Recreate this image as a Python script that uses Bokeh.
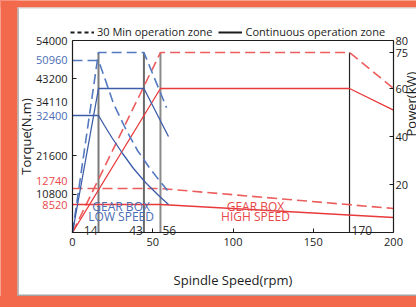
import math
from bokeh.plotting import figure
from bokeh.models import (Range1d, LinearAxis, FixedTicker, ColumnDataSource,
                          Legend, LegendItem, GlobalInlineStyleSheet)
from bokeh.core.properties import value
from bokeh.embed import file_html
from bokeh.resources import INLINE

# ---------------- data ----------------
speed_marks = [16.2, 44.5, 54.8, 172.6]
speed_mark_labels = ["14", "43", "56", "170"]
mark_top_power = [75, 75, 75, 75]

# low gear box (blue) torque, N.m
low_t30_speed = [0, 16.2, 20.6, 25.5, 33.0, 40.5, 47.4, 53.6, 59.2]
low_t30_torque = [48375, 48375, 42750, 36281, 29250, 23063, 18563, 14906, 11813]
low_tc_speed = [0, 16.2, 19.9, 24.9, 31.2, 38.0, 45.5, 53.0, 59.8]
low_tc_torque = [32906, 32906, 30094, 26438, 22219, 18000, 14063, 10688, 7875]
# low gear box (blue) power, kW
low_p30_speed = [0, 16.2, 44.5, 58.6]
low_p30_power = [0, 75, 75, 52]
low_pc_speed = [0, 16.2, 44.5, 59.8]
low_pc_power = [0, 60, 60, 40]

# high gear box (red) torque, N.m
high_t30_speed = [0, 54.8, 200]
high_t30_torque = [12375, 12375, 6750]
high_tc_speed = [0, 54.8, 200]
high_tc_torque = [7875, 7875, 4219]
# high gear box (red) power, kW
high_p30_speed = [0, 54.8, 172.6, 200]
high_p30_power = [0, 75, 75, 60]
high_pc_speed = [0, 54.8, 172.6, 200]
high_pc_power = [0, 60, 60, 51]

speed_max = 200
torque_max = 54000
power_max = 80
x_ticks = [0, 50, 100, 150, 200]
left_axis_ticks = [10800, 21600, 43200, 54000]
extra_torque_labels = ["50960", "34110", "32400", "12740", "8520"]
extra_torque_pos = [48500, 36563, 32906, 14625, 7875]
extra_torque_kind = ["b", "k", "b", "r", "r"]
right_ticks = [20, 40, 60, 75, 80]

gear_text_speed = [30.3, 30.3, 114, 114]
gear_text_torque = [7312, 4500, 7312, 4500]
gear_text = ["GEAR BOX", "LOW SPEED", "GEAR BOX", "HIGH SPEED"]
gear_kind = ["b", "b", "r", "r"]

# ---------------- styles ----------------
BLUE = "#3d5ca8"
BLUE_D = "#5479c0"
RED = "#e8393b"
RED_D = "#ec5d5d"
BLUE_T = "#4a6cb3"
RED_T = "#e8474a"
INK = "#1c1c1c"
ORANGE = "#F2694C"
EDGE = "#a3a3a3"
FONT = value("Open Sans")
kind_color = {"k": INK, "b": BLUE_T, "r": RED_T}

# ---------------- pixel layout ----------------
# canvas covers page px 0..416 x 0..296; plot box is 72..393 x 40..232
W, H = 416, 296
BOX_L, BOX_R, BOX_T, BOX_B = 72, 393, 40, 232
x_per_px = speed_max / (BOX_R - BOX_L)
t_per_px = torque_max / (BOX_B - BOX_T)
p_per_px = power_max / (BOX_B - BOX_T)

def cx(px):   # canvas px -> speed units
    return (px - BOX_L) * x_per_px

def cy(py):   # canvas px -> torque units
    return (BOX_B - py) * t_per_px

p = figure(width=W, height=H,
           x_range=Range1d(cx(0), cx(W)), y_range=Range1d(cy(H), cy(0)),
           output_backend="svg", toolbar_location=None, min_border=0,
           background_fill_color="white", border_fill_color="white")
p.title.visible = False
p.extra_y_ranges = {"power": Range1d((BOX_B - H) * p_per_px, BOX_B * p_per_px)}
p.xgrid.visible = False
p.ygrid.visible = False
p.outline_line_color = None
p.stylesheets = [GlobalInlineStyleSheet(
    css="html, body { background-color: %s; margin: 0; }" % ORANGE)]

# card decoration: orange frame at left/top, grey edges of the white card
p.quad(left=[cx(0)], right=[cx(17)], bottom=[cy(H)], top=[cy(0)],
       fill_color=ORANGE, line_color=None)
p.quad(left=[cx(0)], right=[cx(W)], bottom=[cy(7)], top=[cy(0)],
       fill_color=ORANGE, line_color=None)
p.segment(x0=[cx(17.6)], y0=[cy(H)], x1=[cx(17.6)], y1=[cy(7)], line_color=EDGE, line_width=1.3)
p.segment(x0=[cx(17)], y0=[cy(7.5)], x1=[cx(W)], y1=[cy(7.5)], line_color="#d0d0d0", line_width=1)
p.quad(left=[cx(17)], right=[cx(W)], bottom=[cy(H)], top=[cy(H - 2)],
       fill_color=EDGE, line_color=None)

def style_axis(ax, standoff):
    ax.major_tick_in = 4
    ax.major_tick_out = 0
    ax.minor_tick_in = 0
    ax.minor_tick_out = 0
    ax.major_label_standoff = standoff
    ax.major_label_text_font = "Open Sans"
    ax.major_label_text_font_size = "11px"
    ax.major_label_text_color = INK
    ax.axis_label_text_font = "Open Sans"
    ax.axis_label_text_font_size = "13px"
    ax.axis_label_text_font_style = "normal"
    ax.axis_label_text_color = INK
    ax.axis_line_color = INK
    ax.axis_line_width = 1.2
    ax.major_tick_line_color = INK

xa = p.xaxis[0]
xa.ticker = FixedTicker(ticks=x_ticks)
xa.fixed_location = 0
xa.bounds = (0, speed_max)
style_axis(xa, 5)
xa.axis_label = "Spindle Speed(rpm)"
xa.axis_label_standoff = 22

ya = p.yaxis[0]
ya.ticker = FixedTicker(ticks=left_axis_ticks)
ya.fixed_location = 0
ya.bounds = (0, torque_max)
style_axis(ya, 5)
ya.axis_label = "Torque(N.m)"
ya.axis_label_standoff = -2

ra = LinearAxis(y_range_name="power", ticker=FixedTicker(ticks=right_ticks),
                bounds=(0, power_max), fixed_location=speed_max, axis_label="Power(kW)")
style_axis(ra, 2)
ra.axis_label_standoff = 0
try:
    ra.axis_label_orientation = math.pi / 2
except Exception:
    pass
p.add_layout(ra, "right")

# top edge of the plot box
p.line([0, speed_max], [torque_max, torque_max], line_color=INK, line_width=1.2)

# coloured / extra torque labels beside the left axis
lsrc = ColumnDataSource(dict(x=[cx(BOX_L - 5)] * len(extra_torque_labels), y=extra_torque_pos,
                             t=extra_torque_labels,
                             c=[kind_color[k] for k in extra_torque_kind]))
p.text(x="x", y="y", text="t", text_color="c", source=lsrc, text_align="right",
       text_baseline="middle", text_font=FONT, text_font_size="11px")

# vertical speed marks
p.segment(x0=speed_marks, y0=[0] * 4, x1=speed_marks, y1=mark_top_power,
          y_range_name="power", line_color=["#7a7a7a", "#6a6a6a", "#8a8a8a", "#262626"],
          line_width=[2, 2, 2, 1.2])

DASH = "10 5"
p.line(high_p30_speed, high_p30_power, y_range_name="power", line_color=RED_D, line_width=1.6, line_dash=DASH)
p.line(high_pc_speed, high_pc_power, y_range_name="power", line_color=RED, line_width=1.3)
p.line(high_t30_speed, high_t30_torque, line_color=RED_D, line_width=1.6, line_dash=DASH)
p.line(high_tc_speed, high_tc_torque, line_color=RED, line_width=1.3)
p.line(low_p30_speed, low_p30_power, y_range_name="power", line_color=BLUE_D, line_width=1.6, line_dash=DASH)
p.line(low_pc_speed, low_pc_power, y_range_name="power", line_color=BLUE, line_width=1.3)
p.line(low_t30_speed, low_t30_torque, line_color=BLUE_D, line_width=1.6, line_dash=DASH)
p.line(low_tc_speed, low_tc_torque, line_color=BLUE, line_width=1.3)

p.text(x=speed_marks[:2], y=[0, 0], text=speed_mark_labels[:2], text_align="right",
       text_baseline="alphabetic", x_offset=-1, y_offset=-2, text_font=FONT,
       text_font_size="12px", text_color="#333333")
p.text(x=speed_marks[2:], y=[0, 0], text=speed_mark_labels[2:], text_align="left",
       text_baseline="alphabetic", x_offset=2, y_offset=-2, text_font=FONT,
       text_font_size="12px", text_color="#333333")

gsrc = ColumnDataSource(dict(x=gear_text_speed, y=gear_text_torque, t=gear_text,
                             c=[kind_color[k] for k in gear_kind]))
p.text(x="x", y="y", text="t", text_color="c", source=gsrc, text_align="center",
       text_baseline="middle", text_font=FONT, text_font_size="12px")

# legend (sample glyphs kept outside the visible ranges)
r_dash = p.line(x=[-100, -90], y=[-90000, -90000], line_color=INK, line_width=2, line_dash="4 3")
r_solid = p.line(x=[-100, -90], y=[-90000, -90000], line_color=INK, line_width=2)
legend = Legend(items=[LegendItem(label="30 Min operation zone", renderers=[r_dash]),
                       LegendItem(label="Continuous operation zone", renderers=[r_solid])],
                orientation="horizontal", location=(BOX_L - 2, 257),
                glyph_width=24, glyph_height=12, label_standoff=3, spacing=6,
                padding=2, margin=0, border_line_color=None, background_fill_alpha=0,
                label_text_font="Open Sans", label_text_font_size="11px",
                label_text_color=INK)
p.add_layout(legend)

open("out.html", "w").write(file_html(p, INLINE))
